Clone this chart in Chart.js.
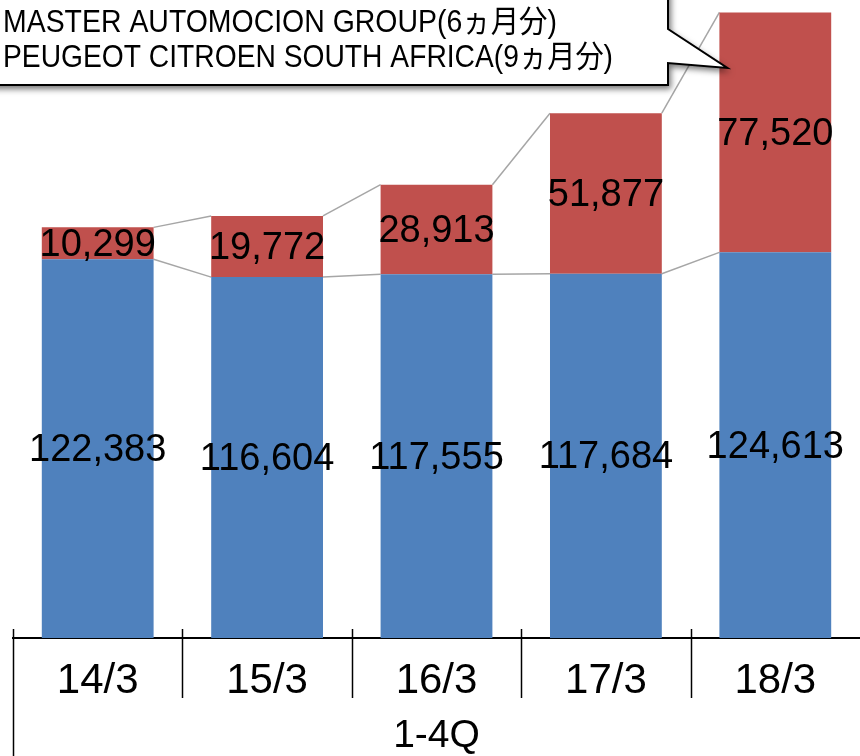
<!DOCTYPE html>
<html>
<head>
<meta charset="utf-8">
<script src="https://cdn.jsdelivr.net/npm/chart.js@4"></script>
<style>
html, body { margin: 0; padding: 0; background: #fff; }
#wrap { width: 860px; height: 756px; position: relative; }
</style>
</head>
<body>
<div id="wrap"><canvas id="unitsChart"></canvas></div>
<script>
// data
const categories = ['14/3', '15/3', '16/3', '17/3', '18/3'];
const baseUnits = [122383, 116604, 117555, 117684, 124613];
const addedUnits = [10299, 19772, 28913, 51877, 77520];
const groupLabel = '1-4Q';
const noteLines = ['MASTER AUTOMOCION GROUP(6ヵ月分)', 'PEUGEOT CITROEN SOUTH AFRICA(9ヵ月分)'];

const FONT = '"Liberation Sans", Arial, "Noto Sans CJK JP", sans-serif';

const decor = {
    id: 'decor',
    beforeDatasetsDraw(chart) {
        // series lines between stack tops
        const ctx = chart.ctx;
        ctx.save();
        ctx.strokeStyle = '#a6a6a6';
        ctx.lineWidth = 1.5;
        chart.data.datasets.forEach((ds, di) => {
            const bars = chart.getDatasetMeta(di).data;
            for (let i = 0; i < bars.length - 1; i++) {
                const a = bars[i], b = bars[i + 1];
                ctx.beginPath();
                ctx.moveTo(a.x + a.width / 2, a.y);
                ctx.lineTo(b.x - b.width / 2, b.y);
                ctx.stroke();
            }
        });
        ctx.restore();
    },
    afterDraw(chart) {
        const ctx = chart.ctx;
        const area = chart.chartArea;

        // value labels in the middle of each segment
        ctx.save();
        ctx.fillStyle = '#000';
        ctx.font = '38px ' + FONT;
        ctx.textAlign = 'center';
        ctx.textBaseline = 'middle';
        chart.data.datasets.forEach((ds, di) => {
            chart.getDatasetMeta(di).data.forEach((bar, i) => {
                const mid = (bar.y + bar.base) / 2;
                ctx.fillText(ds.data[i].toLocaleString('en-US'), bar.x, mid + 2);
            });
        });
        ctx.restore();

        // category separators
        const n = categories.length;
        const step = (area.right - area.left) / n;
        ctx.save();
        ctx.strokeStyle = '#000';
        ctx.lineWidth = 1.5;
        for (let i = 0; i < n; i++) {
            const x = Math.round(area.left + i * step) + 0.5;
            ctx.beginPath();
            ctx.moveTo(x, area.bottom - 9);
            ctx.lineTo(x, i === 0 ? chart.height : area.bottom + 60);
            ctx.stroke();
        }
        ctx.restore();

        // callout box
        const last = chart.getDatasetMeta(1).data[n - 1];
        const tipX = last.x - last.width / 2 + 8;
        const tipY = 68;
        const boxR = 668, boxB = 85;
        ctx.save();
        ctx.shadowColor = 'rgba(0,0,0,0.55)';
        ctx.shadowBlur = 6;
        ctx.shadowOffsetX = 3;
        ctx.shadowOffsetY = 4;
        ctx.beginPath();
        ctx.moveTo(-20, -20);
        ctx.lineTo(boxR, -20);
        ctx.lineTo(boxR, 29);
        ctx.lineTo(tipX, tipY);
        ctx.lineTo(boxR, 63);
        ctx.lineTo(boxR, boxB);
        ctx.lineTo(-20, boxB);
        ctx.closePath();
        ctx.fillStyle = '#fff';
        ctx.fill();
        ctx.shadowColor = 'transparent';
        ctx.strokeStyle = '#000';
        ctx.lineWidth = 2;
        ctx.lineJoin = 'miter';
        ctx.stroke();

        ctx.fillStyle = '#000';
        ctx.font = '31px ' + FONT;
        ctx.textAlign = 'left';
        ctx.textBaseline = 'alphabetic';
        const targets = [554, 610];
        const baselines = [32, 67];
        noteLines.forEach((t, i) => {
            const w = ctx.measureText(t).width;
            ctx.save();
            ctx.translate(3, baselines[i]);
            ctx.scale(targets[i] / w, 1);
            ctx.fillText(t, 0, 0);
            ctx.restore();
        });
        ctx.restore();
    }
};

new Chart(document.getElementById('unitsChart'), {
    type: 'bar',
    data: {
        labels: categories,
        datasets: [
            { label: 'base', data: baseUnits, backgroundColor: '#4f81bd', barPercentage: 0.66, categoryPercentage: 1 },
            { label: 'added', data: addedUnits, backgroundColor: '#c0504d', barPercentage: 0.66, categoryPercentage: 1 }
        ]
    },
    options: {
        responsive: true,
        maintainAspectRatio: false,
        animation: false,
        layout: { padding: { left: 13, right: 0, top: 2, bottom: 0 } },
        plugins: {
            legend: { display: false },
            tooltip: { enabled: false }
        },
        scales: {
            x: {
                stacked: true,
                grid: { display: false, drawTicks: false },
                border: { display: true, color: '#000', width: 2 },
                ticks: {
                    color: '#000',
                    font: { family: FONT, size: 42, lineHeight: 1 },
                    padding: 22,
                    maxRotation: 0
                },
                title: {
                    display: true,
                    text: groupLabel,
                    color: '#000',
                    font: { family: FONT, size: 39, lineHeight: 1 },
                    padding: { top: 0, bottom: 0 }
                },
                afterFit(scale) { scale.height = 118; }
            },
            y: {
                stacked: true,
                display: false,
                min: 0,
                max: 205500
            }
        }
    },
    plugins: [decor]
});
</script>
</body>
</html>
